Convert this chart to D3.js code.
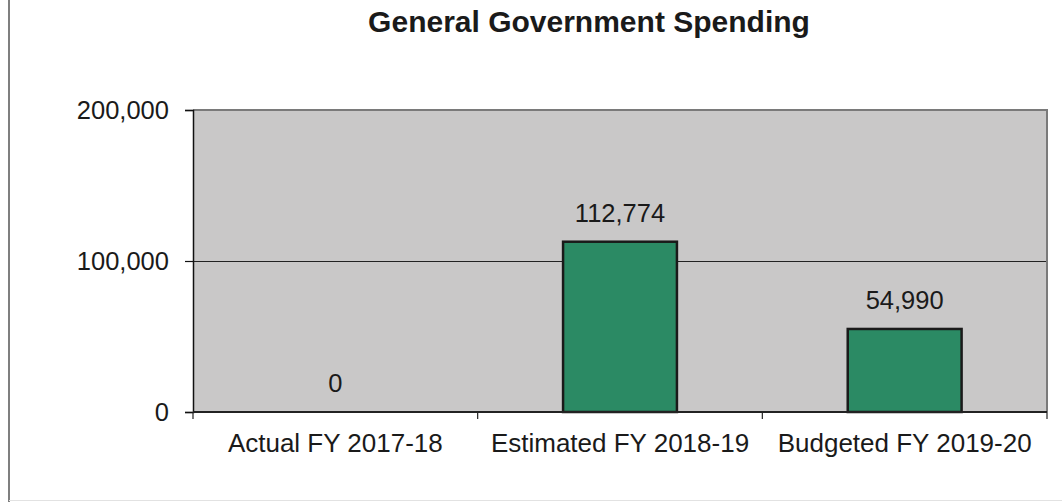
<!DOCTYPE html>
<html>
<head>
<meta charset="utf-8">
<script src="https://cdn.jsdelivr.net/npm/d3@7"></script>
<style>
  html, body { margin: 0; padding: 0; background: #fff; }
  svg text { font-family: "Liberation Sans", Arial, sans-serif; fill: #1a1a1a; }
</style>
</head>
<body>
<svg id="chart" width="1062" height="502"></svg>
<script>
// Spending by fiscal year
const categories = ["Actual FY 2017-18", "Estimated FY 2018-19", "Budgeted FY 2019-20"];
const spending = [0, 112774, 54990];
const yTicks = [0, 100000, 200000];
const title = "General Government Spending";

const svg = d3.select("#chart");
const W = 1062, H = 502;
const plot = { left: 193, right: 1047, top: 110, bottom: 412 };

// page frame lines
svg.append("line").attr("x1", 9).attr("x2", 9).attr("y1", 0).attr("y2", H)
  .attr("stroke", "#555").attr("stroke-width", 1.5);
svg.append("line").attr("x1", 9).attr("x2", W).attr("y1", 500.5).attr("y2", 500.5)
  .attr("stroke", "#e2e2e2").attr("stroke-width", 1);

const x = d3.scaleBand().domain(categories)
  .range([plot.left, plot.right]).paddingInner(0.6).paddingOuter(0.3);
const y = d3.scaleLinear().domain([0, 200000]).range([plot.bottom, plot.top]);

// plot background
svg.append("rect")
  .attr("x", plot.left).attr("y", plot.top)
  .attr("width", plot.right - plot.left).attr("height", plot.bottom - plot.top)
  .attr("fill", "#c9c8c8");

// gridlines
svg.append("g").selectAll("line").data(yTicks.filter(d => d > 0 && d < 200000)).join("line")
  .attr("x1", plot.left).attr("x2", plot.right)
  .attr("y1", d => Math.round(y(d)) + 0.5).attr("y2", d => Math.round(y(d)) + 0.5)
  .attr("stroke", "#222").attr("stroke-width", 1);

// top and right border
svg.append("path")
  .attr("d", `M${plot.left},${plot.top}H${plot.right}V${plot.bottom}`)
  .attr("fill", "none").attr("stroke", "#7a7a7a").attr("stroke-width", 2);

// bars
svg.append("g").selectAll("rect").data(spending).join("rect")
  .attr("x", (d, i) => x(categories[i]))
  .attr("y", d => y(d))
  .attr("width", x.bandwidth())
  .attr("height", d => y(0) - y(d))
  .attr("fill", "#2b8a64")
  .attr("stroke", d => d > 0 ? "#1a1a1a" : "none")
  .attr("stroke-width", 2.5);

// value labels
svg.append("g").selectAll("text").data(spending).join("text")
  .attr("x", (d, i) => x(categories[i]) + x.bandwidth() / 2)
  .attr("y", d => y(d) - 20)
  .attr("text-anchor", "middle")
  .attr("font-size", 25.5)
  .text(d => d3.format(",")(d));

// y axis
const yAxis = d3.axisLeft(y).tickValues(yTicks).tickFormat(d3.format(",")).tickSize(8).tickPadding(16);
const gy = svg.append("g").attr("transform", `translate(${plot.left},0)`).call(yAxis);
gy.select(".domain").attr("stroke", "#111").attr("stroke-width", 1.5);
gy.selectAll(".tick line").attr("stroke", "#111").attr("stroke-width", 1.2);
gy.selectAll(".tick text").attr("font-size", 25.5).attr("fill", "#1a1a1a")
  .attr("font-family", "Liberation Sans, Arial, sans-serif");

// x axis with ticks at band boundaries
const gx = svg.append("g");
gx.append("line").attr("x1", plot.left).attr("x2", plot.right)
  .attr("y1", plot.bottom).attr("y2", plot.bottom)
  .attr("stroke", "#222").attr("stroke-width", 2);
const step = x.step();
const bounds = d3.range(categories.length + 1).map(i => plot.left + i * step);
gx.selectAll("line.tk").data(bounds).join("line").attr("class", "tk")
  .attr("x1", d => d).attr("x2", d => d)
  .attr("y1", plot.bottom).attr("y2", plot.bottom + 7)
  .attr("stroke", "#222").attr("stroke-width", 1.2);
gx.selectAll("text").data(categories).join("text")
  .attr("x", d => x(d) + x.bandwidth() / 2)
  .attr("y", 452)
  .attr("text-anchor", "middle")
  .attr("font-size", 26)
  .text(d => d);

// title
svg.append("text")
  .attr("x", 589).attr("y", 32)
  .attr("text-anchor", "middle")
  .attr("font-size", 30).attr("font-weight", "bold")
  .text(title);
</script>
</body>
</html>
